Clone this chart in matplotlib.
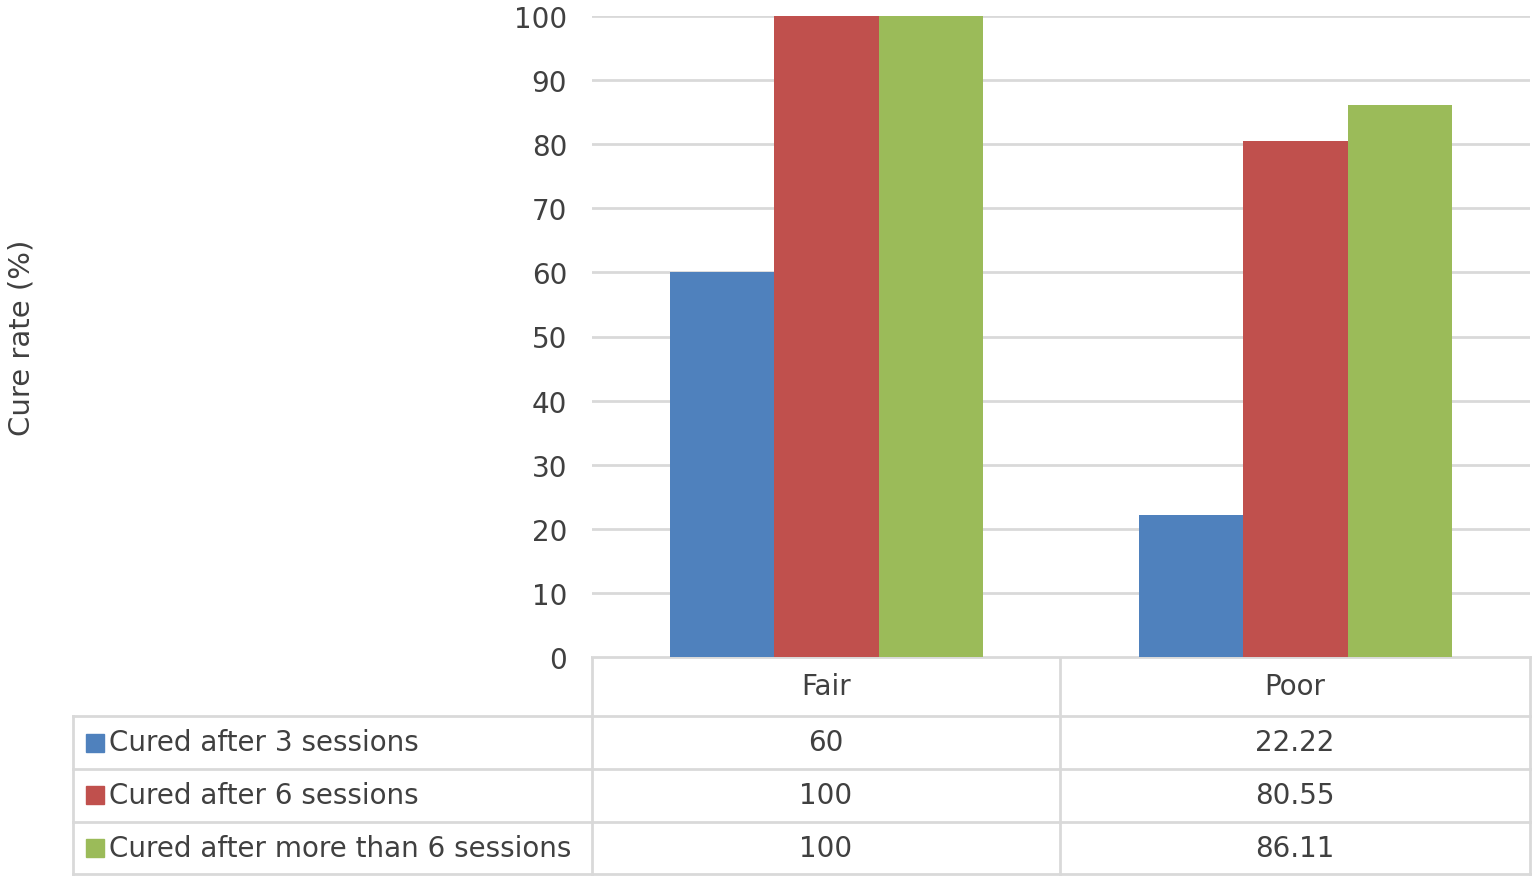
import numpy as np
import matplotlib
matplotlib.use("Agg")
from matplotlib import pyplot as plt
from matplotlib.patches import Rectangle

# data
categories = ["Fair", "Poor"]
series_names = ["Cured after 3 sessions", "Cured after 6 sessions",
                "Cured after more than 6 sessions"]
cured_3 = [60, 22.22]
cured_6 = [100, 80.55]
cured_more = [100, 86.11]
series = [cured_3, cured_6, cured_more]
colors = ["#4F81BD", "#C0504D", "#9BBB59"]

plt.rcParams['font.family'] = ['DejaVu Sans']
txt = "#404040"
grid = "#D9D9D9"
fs = 20

W, H = 1535, 879
fig = plt.figure(figsize=(W / 100, H / 100), dpi=100)

# bar axes (pixel box 592..1530 x, 17..658 y)
ax = fig.add_axes([592 / W, 1 - 658 / H, (1530 - 592) / W, (658 - 17) / H])
x = np.arange(len(categories))
bw = 0.222
for i, vals in enumerate(series):
    ax.bar(x + (i - 1) * bw, vals, bw, color=colors[i], zorder=3)
ax.set_xlim(-0.5, len(categories) - 0.5)
ax.set_ylim(0, 100)
ax.set_yticks(np.arange(0, 101, 10))
ax.yaxis.grid(True, color=grid, linewidth=2, zorder=0)
ax.set_xticks([])
for s in ax.spines.values():
    s.set_visible(False)
ax.tick_params(axis='y', length=0, pad=18, labelsize=fs, labelcolor=txt)
fig.text(22 / W, 1 - 338 / H, "Cure rate (%)", rotation=90, ha='center',
         va='center', fontsize=fs + 1, color=txt)

# data table below (pixel coords)
tx = fig.add_axes([0, 0, 1, 1], zorder=-1)
tx.set_xlim(0, W)
tx.set_ylim(H, 0)
tx.axis('off')
left, c1, c2, right = 73, 592, 1060, 1530
rows = [658, 717, 770, 823, 875]
lc = dict(color=grid, linewidth=2)
# header row
tx.plot([c1, right], [rows[0], rows[0]], **lc)
tx.plot([c1, c1], [rows[0], rows[-1]], **lc)
tx.plot([c2, c2], [rows[0], rows[-1]], **lc)
tx.plot([right, right], [rows[0], rows[-1]], **lc)
for r in rows[1:]:
    tx.plot([left, right], [r, r], **lc)
tx.plot([left, left], [rows[1], rows[-1]], **lc)

mid = [(c1 + c2) / 2, (c2 + right) / 2]
ymid = [(rows[k] + rows[k + 1]) / 2 for k in range(4)]
for j, c in enumerate(categories):
    tx.text(mid[j], ymid[0], c, ha='center', va='center', fontsize=fs, color=txt)
for i, name in enumerate(series_names):
    y = ymid[i + 1]
    tx.add_patch(Rectangle((86, y - 9), 18, 18, color=colors[i]))
    tx.text(109, y, name, ha='left', va='center', fontsize=fs, color=txt)
    for j, v in enumerate(series[i]):
        tx.text(mid[j], y, f"{v:g}", ha='center', va='center', fontsize=fs, color=txt)

fig.savefig("out.png", dpi=100)
